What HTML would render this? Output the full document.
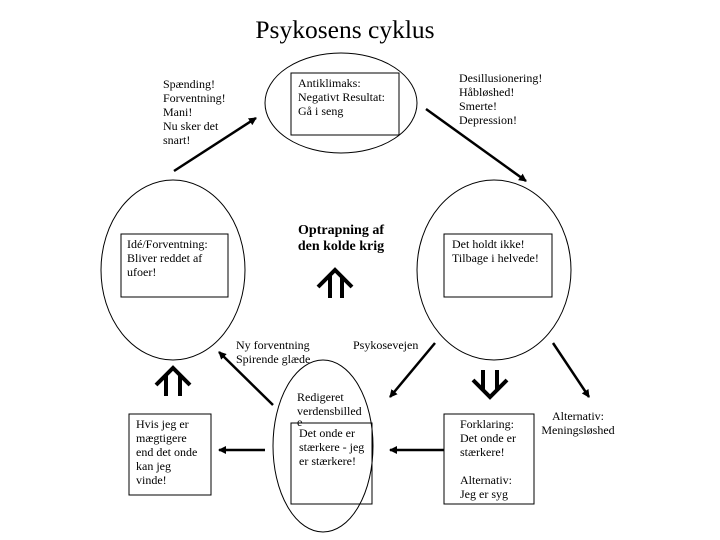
<!DOCTYPE html>
<html><head><meta charset="utf-8"><style>
html,body{margin:0;padding:0;background:#fff}
svg{display:block}
text{font-family:"Liberation Serif",serif;font-size:12px;fill:#000}
</style></head><body>
<svg width="720" height="540" viewBox="0 0 720 540" xmlns="http://www.w3.org/2000/svg">
<defs><marker id="ah" markerWidth="8" markerHeight="8" refX="7" refY="4" orient="auto" markerUnits="userSpaceOnUse"><path d="M0,0 L8,4 L0,8 z" fill="#000"/></marker></defs>
<text x="345" y="38" text-anchor="middle" style="font-size:25.5px">Psykosens cyklus</text>
<g fill="none" stroke="#000" stroke-width="1">
<ellipse cx="341" cy="103" rx="76" ry="50"/>
<rect x="291" y="73" width="108" height="62" fill="#fff"/>
<ellipse cx="173" cy="270" rx="72" ry="90"/>
<rect x="121" y="234" width="107" height="63"/>
<ellipse cx="494" cy="270" rx="77" ry="90"/>
<rect x="444" y="234" width="108" height="63"/>
<ellipse cx="323" cy="446" rx="50" ry="86"/>
<rect x="291" y="423" width="81" height="81"/>
<rect x="129" y="414" width="82" height="81"/>
<rect x="444" y="414" width="90" height="90"/>
</g>
<g stroke="#000" stroke-width="2.5" marker-end="url(#ah)">
<line x1="174" y1="171" x2="256" y2="118"/>
<line x1="426" y1="109" x2="526" y2="181"/>
<line x1="273" y1="405" x2="219" y2="352"/>
<line x1="435" y1="343" x2="390" y2="397"/>
<line x1="553" y1="343" x2="589" y2="397"/>
<line x1="265" y1="450" x2="219" y2="450"/>
<line x1="444" y1="450" x2="390" y2="450"/>
</g>
<g fill="none" stroke="#000" stroke-width="4">
<path d="M318,287 L335,270 L352,287 M330,276 V298 M342,276 V298"/>
<path d="M156,385 L173,368 L190,385 M166,375 V396 M180,375 V396"/>
<path d="M473,380 L490,397 L507,380 M483,370 V391 M497,370 V391"/>
</g>
<text x="163" y="88">Spænding!</text>
<text x="163" y="102">Forventning!</text>
<text x="163" y="116">Mani!</text>
<text x="163" y="130">Nu sker det</text>
<text x="163" y="144">snart!</text>
<text x="298" y="87">Antiklimaks:</text>
<text x="298" y="101">Negativt Resultat:</text>
<text x="298" y="115">Gå i seng</text>
<text x="459" y="82">Desillusionering!</text>
<text x="459" y="96">Håbløshed!</text>
<text x="459" y="110">Smerte!</text>
<text x="459" y="124">Depression!</text>
<text x="127" y="248">Idé/Forventning:</text>
<text x="127" y="262">Bliver reddet af</text>
<text x="127" y="276">ufoer!</text>
<text x="452" y="248">Det holdt ikke!</text>
<text x="452" y="262">Tilbage i helvede!</text>
<text x="341" y="234" text-anchor="middle" style="font-weight:bold;font-size:14px">Optrapning af</text>
<text x="341" y="250" text-anchor="middle" style="font-weight:bold;font-size:14px">den kolde krig</text>
<text x="236" y="349">Ny forventning</text>
<text x="236" y="363">Spirende glæde</text>
<text x="353" y="349">Psykosevejen</text>
<text x="297" y="401">Redigeret</text>
<text x="297" y="415">verdensbilled</text>
<text x="297" y="426">e</text>
<text x="299" y="437">Det onde er</text>
<text x="299" y="451">stærkere - jeg</text>
<text x="299" y="465">er stærkere!</text>
<text x="136" y="428">Hvis jeg er</text>
<text x="136" y="442">mægtigere</text>
<text x="136" y="456">end det onde</text>
<text x="136" y="470">kan jeg</text>
<text x="136" y="484">vinde!</text>
<text x="460" y="428">Forklaring:</text>
<text x="460" y="442">Det onde er</text>
<text x="460" y="456">stærkere!</text>
<text x="460" y="484">Alternativ:</text>
<text x="460" y="498">Jeg er syg</text>
<text x="578" y="420" text-anchor="middle">Alternativ:</text>
<text x="578" y="434" text-anchor="middle">Meningsløshed</text>
</svg>
</body></html>
